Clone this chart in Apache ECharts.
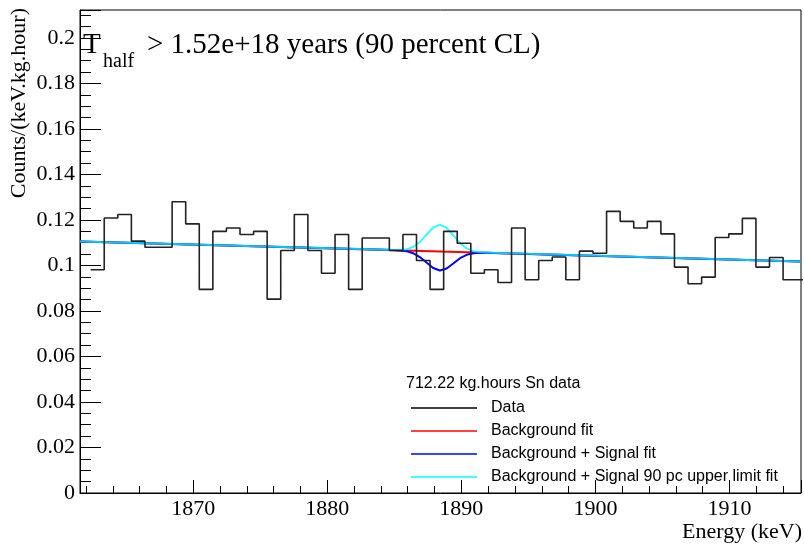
<!DOCTYPE html>
<html lang="en">
<head>
    <meta charset="UTF-8">
    <title>Sn data fit</title>
    <script src="https://cdn.jsdelivr.net/npm/echarts@6/dist/echarts.min.js"></script>
    <style>
        html, body { margin: 0; padding: 0; background: #fff; }
    </style>
</head>
<body>
<div id="chart" style="width: 804px; height: 548px;"></div>
<script>
    // histogram: first bin edge and width (keV), then bin contents
    const firstEdge = 1862.345;
    const binWidth = 1.0129;
    const counts = [
        0.0981, 0.1209, 0.1224, 0.1107, 0.1080, 0.1080, 0.1280, 0.1183, 0.0895, 0.1150,
        0.1165, 0.1136, 0.1150, 0.0852, 0.1066, 0.1224, 0.1066, 0.0966, 0.1136, 0.0895,
        0.1121, 0.1121, 0.1066, 0.1136, 0.1022, 0.0895, 0.1150, 0.1098, 0.0966, 0.0981,
        0.0925, 0.1165, 0.0937, 0.1022, 0.1037, 0.0937, 0.1063, 0.1054, 0.1238, 0.1194,
        0.1165, 0.1194, 0.1139, 0.0993, 0.0920, 0.0949, 0.1123, 0.1139, 0.1207, 0.0993,
        0.1035, 0.0937, 0.0937
    ];

    // fit curves
    const bgX = [1861.55, 1915.34];
    const bgY = [0.1106, 0.1018];
    const fitX = [1861.55, 1884.4, 1884.9, 1885.4, 1885.9, 1886.4, 1886.9, 1887.4, 1887.9, 1888.4,
        1888.9, 1889.4, 1889.9, 1890.4, 1890.9, 1891.4, 1891.9, 1892.4, 1915.34];
    const sigFit = [0.1106, 0.1069, 0.1068, 0.1066, 0.1063, 0.1054, 0.1037, 0.1013, 0.0989, 0.0978,
        0.0987, 0.1009, 0.1032, 0.1047, 0.1054, 0.1056, 0.1056, 0.1055, 0.1018];
    const limitFit = [0.1106, 0.1069, 0.1068, 0.1068, 0.1071, 0.1081, 0.1103, 0.1135, 0.1167, 0.1180,
        0.1165, 0.1132, 0.1098, 0.1075, 0.1063, 0.1059, 0.1057, 0.1056, 0.1018];

    const names = ['Data', 'Background fit', 'Background + Signal fit', 'Background + Signal 90 pc upper limit fit'];

    const histData = counts.map((c, i) => [firstEdge + i * binWidth, c]);
    histData.push([firstEdge + counts.length * binWidth, counts[counts.length - 1]]);

    const serif = 'Liberation Serif';
    const chart = echarts.init(document.querySelector('#chart'));

    chart.setOption({
        animation: false,
        grid: {
            left: 80, right: 0, top: 10, bottom: 55,
            show: true, borderColor: '#000', borderWidth: 1
        },
        xAxis: {
            type: 'value',
            min: 1861.55,
            max: 1915.34,
            splitNumber: 5,
            axisLine: { lineStyle: { color: '#000', width: 1 } },
            axisTick: { inside: true, length: 13, lineStyle: { color: '#000' } },
            minorTick: { show: true, splitNumber: 5, length: 7, lineStyle: { color: '#000' } },
            splitLine: { show: false },
            axisLabel: {
                color: '#000', fontFamily: serif, fontSize: 22, margin: 5,
                formatter: v => (Math.abs(v / 10 - Math.round(v / 10)) < 1e-6 ? String(Math.round(v)) : '')
            }
        },
        yAxis: {
            type: 'value',
            min: 0,
            max: 0.2123,
            interval: 0.02,
            axisLine: { show: true, lineStyle: { color: '#000', width: 1 } },
            axisTick: { inside: true, length: 21, lineStyle: { color: '#000' } },
            minorTick: { show: true, splitNumber: 4, length: 11, lineStyle: { color: '#000' } },
            splitLine: { show: false },
            axisLabel: {
                color: '#000', fontFamily: serif, fontSize: 22, margin: 5,
                formatter: v => (Math.abs(v / 0.02 - Math.round(v / 0.02)) < 1e-6 ? String(parseFloat(v.toFixed(2))) : '')
            }
        },
        legend: {
            data: names,
            orient: 'vertical',
            left: 411,
            top: 398,
            padding: 0,
            icon: 'rect',
            itemWidth: 66,
            itemHeight: 1.5,
            itemGap: 3,
            textStyle: {
                color: '#000', fontFamily: 'Liberation Sans', fontSize: 16,
                lineHeight: 20, padding: [0, 0, 0, 9]
            }
        },
        graphic: [
            { type: 'text', left: 406, top: 376, style: { text: '712.22 kg.hours Sn data', font: '16px "Liberation Sans"', fill: '#000' } },
            { type: 'text', x: 83, y: 45, style: { text: 'T', font: '29px "Liberation Serif"', fill: '#000', verticalAlign: 'middle' } },
            { type: 'text', x: 103, y: 62, style: { text: 'half', font: '20px "Liberation Serif"', fill: '#000', verticalAlign: 'middle' } },
            { type: 'text', x: 147, y: 45, style: { text: '> 1.52e+18 years (90 percent CL)', font: '29px "Liberation Serif"', fill: '#000', verticalAlign: 'middle' } },
            { type: 'text', x: 802, y: 532, style: { text: 'Energy (keV)', font: '22px "Liberation Serif"', fill: '#000', align: 'right', verticalAlign: 'middle' } },
            { type: 'text', x: 19, y: 8, rotation: Math.PI / 2, style: { text: 'Counts/(keV.kg.hour)', font: '22px "Liberation Serif"', fill: '#000', align: 'right', verticalAlign: 'middle' } }
        ],
        series: [
            {
                name: names[1],
                type: 'line',
                symbol: 'none',
                data: bgX.map((x, i) => [x, bgY[i]]),
                itemStyle: { color: '#ff0000' },
                lineStyle: { color: '#ff0000', width: 2 }
            },
            {
                name: names[2],
                type: 'line',
                symbol: 'none',
                data: fitX.map((x, i) => [x, sigFit[i]]),
                itemStyle: { color: '#0000ff' },
                lineStyle: { color: '#0000ff', width: 2 }
            },
            {
                name: names[3],
                type: 'line',
                symbol: 'none',
                data: fitX.map((x, i) => [x, limitFit[i]]),
                itemStyle: { color: '#00ffff' },
                lineStyle: { color: '#00ffff', width: 2, opacity: 0.78 }
            },
            {
                name: names[0],
                type: 'line',
                step: 'end',
                symbol: 'none',
                data: histData,
                itemStyle: { color: '#000' },
                lineStyle: { color: '#222', width: 1.6 }
            }
        ]
    });
</script>
</body>
</html>
